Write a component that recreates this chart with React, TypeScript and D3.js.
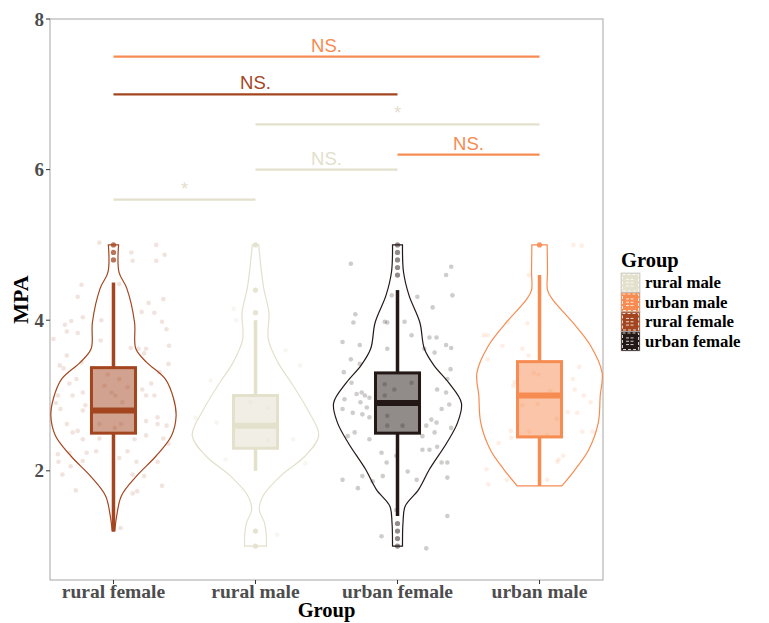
import React from "react";
import * as d3 from "d3";

const GROUPS = ["rural female", "rural male", "urban female", "urban male"];
const GROUP_COLORS = ["#a3461f", "#e3e0cc", "#231816", "#f68c52"];
const LEGEND_GROUPS = ["rural male", "urban male", "rural female", "urban female"];
const Y_TICKS = [2, 4, 6, 8];

// Box statistics per group (same order as GROUPS)
const LOWER_WHISKER = [1.2, 2.0, 1.4, 1.8];
const Q1 = [2.5, 2.3, 2.5, 2.45];
const MEDIAN = [2.8, 2.6, 2.9, 3.0];
const Q3 = [3.37, 3.0, 3.3, 3.45];
const UPPER_WHISKER = [4.5, 4.0, 4.4, 4.6];
const OUTLIERS = [
  [5.0, 4.9, 4.8],
  [5.0, 4.4, 4.1, 1.2, 1.0],
  [5.0, 4.9, 4.8, 4.7, 4.6, 1.3, 1.2, 1.1, 1.0],
  [5.0],
];

// Violin outlines: [MPA, relative density]
const VIOLIN_RURAL_FEMALE: [number, number][] = [
  [5.0, 0.08], [4.64, 0.086], [4.42, 0.21], [3.97, 0.33], [3.62, 0.35], [3.44, 0.52],
  [3.22, 0.81], [2.96, 0.94], [2.73, 0.98], [2.47, 0.91], [2.2, 0.67], [1.93, 0.36],
  [1.67, 0.125], [1.4, 0.05], [1.2, 0.02],
];
const VIOLIN_RURAL_MALE: [number, number][] = [
  [5.0, 0.05], [4.64, 0.094], [4.42, 0.13], [4.1, 0.21], [3.75, 0.2], [3.44, 0.35],
  [3.17, 0.56], [2.82, 0.81], [2.47, 0.99], [2.2, 0.78], [1.93, 0.39], [1.67, 0.12],
  [1.48, 0.06], [1.31, 0.14], [1.13, 0.17], [1.0, 0.17],
];
const VIOLIN_URBAN_FEMALE: [number, number][] = [
  [5.0, 0.078], [4.64, 0.094], [4.33, 0.18], [3.97, 0.35], [3.62, 0.42], [3.4, 0.57],
  [3.17, 0.8], [2.9, 1.0], [2.64, 0.94], [2.37, 0.77], [2.02, 0.5], [1.75, 0.33],
  [1.53, 0.12], [1.31, 0.086], [1.0, 0.078],
];
const VIOLIN_URBAN_MALE: [number, number][] = [
  [5.0, 0.12], [4.64, 0.125], [4.4, 0.125], [4.28, 0.2], [3.97, 0.52], [3.66, 0.8],
  [3.3, 0.98], [3.0, 0.95], [2.64, 0.92], [2.28, 0.77], [2.02, 0.56], [1.8, 0.35],
];
const VIOLINS = [VIOLIN_RURAL_FEMALE, VIOLIN_RURAL_MALE, VIOLIN_URBAN_FEMALE, VIOLIN_URBAN_MALE];

// Individual observations: [jitter (-100..100 of violin half width), MPA]
const POINTS_RURAL_FEMALE: [number, number][] = [
  [-22, 5.03], [67, 5.0], [80, 4.87], [28, 4.9], [67, 4.79], [30, 4.79], [-50, 4.47],
  [-56, 4.31], [9, 4.48], [55, 4.23], [78, 4.28], [64, 4.1], [44, 4.11], [-66, 3.99],
  [-76, 3.94], [-48, 4.04], [-19, 4.0], [-73, 3.85], [-56, 3.83], [76, 3.98], [83, 3.88],
  [-20, 3.73], [87, 3.66], [-73, 3.53], [27, 3.63], [39, 3.62], [51, 3.62], [48, 3.56],
  [-84, 3.4], [-78, 3.36], [-50, 3.44], [72, 3.31], [86, 3.42], [-69, 3.16], [-58, 3.22],
  [59, 3.16], [45, 3.08], [51, 3.0], [64, 3.0], [-87, 3.0], [-64, 3.0], [-48, 3.04],
  [-83, 2.82], [-48, 2.8], [-44, 2.87], [69, 2.71], [51, 2.66], [69, 2.62], [83, 2.6],
  [-73, 2.62], [-56, 2.53], [-64, 2.51], [-48, 2.42], [-22, 2.43], [33, 2.42], [51, 2.47],
  [78, 2.43], [86, 2.36], [-87, 2.22], [-69, 2.24], [-42, 2.24], [-27, 2.26], [9, 2.17],
  [22, 2.26], [36, 2.12], [-86, 2.12], [-67, 2.06], [-48, 2.13], [30, 1.95], [48, 1.93],
  [69, 2.12], [-59, 1.74], [30, 1.7], [37, 1.73], [76, 1.8], [11, 1.24], [-9, 3.28],
  [9, 3.22], [22, 3.11], [-3, 3.04], [3, 3.0], [-14, 3.13], [14, 2.91], [-22, 2.62],
  [12, 2.62], [2, 2.57], [-94, 3.75], [-90, 2.9], [-80, 1.95],
];
const POINTS_RURAL_MALE: [number, number][] = [
  [-61, 2.64], [-30, 4.0], [59, 2.42], [70, 3.4], [-8, 2.91], [19, 2.84], [20, 2.4],
  [-47, 2.15], [34, 1.15], [-34, 4.15], [-94, 2.7], [78, 2.1], [-70, 3.2], [47, 3.6],
];
const POINTS_URBAN_FEMALE: [number, number][] = [
  [-73, 4.75], [84, 4.71], [76, 4.6], [86, 4.33], [31, 4.31], [55, 4.17], [-9, 4.33],
  [-66, 4.08], [-69, 3.97], [-20, 3.98], [11, 3.98], [-16, 3.97], [22, 3.8], [50, 3.77],
  [61, 3.77], [76, 3.67], [84, 3.63], [-86, 3.71], [-59, 3.67], [-16, 3.62], [-73, 3.48],
  [58, 3.57], [42, 3.62], [83, 3.35], [-59, 3.42], [-84, 3.31], [-72, 3.17], [-56, 3.04],
  [-51, 3.0], [-64, 3.02], [-44, 2.97], [-58, 2.91], [-48, 2.84], [-83, 2.95], [-86, 2.82],
  [-70, 2.77], [-55, 2.75], [-44, 2.71], [62, 3.08], [78, 3.22], [76, 3.04], [81, 2.88],
  [69, 2.82], [53, 2.68], [61, 2.64], [45, 2.6], [58, 2.51], [39, 2.46], [84, 2.57],
  [-67, 2.51], [-78, 2.46], [-44, 2.42], [39, 2.28], [50, 2.28], [62, 2.32], [78, 2.11],
  [69, 2.11], [-86, 1.88], [-55, 1.93], [-39, 1.86], [-23, 1.93], [-25, 2.24], [-2, 2.2],
  [-17, 2.11], [16, 1.99], [30, 1.88], [78, 1.91], [-62, 1.77], [-2, 1.48], [78, 1.4],
  [-25, 1.13], [45, 0.97], [-20, 3.15], [-20, 3.0], [-16, 2.73], [8, 2.6], [22, 3.17],
  [-5, 3.08], [-16, 2.6],
];
const POINTS_URBAN_MALE: [number, number][] = [
  [53, 5.0], [66, 4.99], [-17, 4.6], [-50, 3.97], [-19, 3.96], [-87, 3.8], [-81, 3.8],
  [-58, 3.66], [-27, 3.62], [-81, 3.48], [-17, 3.53], [62, 3.38], [-9, 3.3], [-2, 3.28],
  [52, 3.22], [-39, 3.18], [-41, 3.13], [55, 3.08], [69, 3.0], [80, 2.91], [17, 3.06],
  [-27, 2.87], [-3, 2.89], [44, 2.78], [59, 2.77], [27, 2.69], [-45, 2.53], [-16, 2.52],
  [67, 2.52], [83, 2.52], [-44, 2.44], [12, 2.47], [-64, 2.37], [30, 2.15], [37, 2.2],
  [28, 2.12], [-83, 2.02], [-51, 1.88], [-80, 1.82], [12, 1.88],
];
const POINTS = [POINTS_RURAL_FEMALE, POINTS_RURAL_MALE, POINTS_URBAN_FEMALE, POINTS_URBAN_MALE];
const POINT_OPACITY = [0.15, 0.3, 0.22, 0.15];
const OUTLIER_OPACITY = [0.75, 0.9, 0.5, 0.9];

// Pairwise comparisons
const COMPARE_FROM = ["rural female", "rural female", "rural male", "urban female", "rural male", "rural female"];
const COMPARE_TO = ["urban male", "urban female", "urban male", "urban male", "urban female", "rural male"];
const COMPARE_Y = [7.5, 7.0, 6.6, 6.2, 6.0, 5.6];
const COMPARE_LABEL = ["NS.", "NS.", "*", "NS.", "NS.", "*"];
const COMPARE_COLOR_GROUP = ["urban male", "rural female", "rural male", "urban male", "rural male", "rural male"];

const SERIF = "'Liberation Serif', 'Times New Roman', serif";
const SANS = "'Liberation Sans', Arial, sans-serif";

export default function App() {
  const W = 769;
  const H = 623;
  const left = 50, right = 603, top = 19, bottom = 580;

  const x = d3.scalePoint<string>().domain(GROUPS).range([left, right]).padding(0.447);
  const y = d3.scaleLinear().domain([0.55, 8]).range([bottom, top]);
  const step = x.step();
  const halfWidth = d3.scaleLinear().domain([0, 1]).range([0, step * 0.45]);
  const boxHalf = step * 0.155;
  const colorOf = (g: string) => GROUP_COLORS[GROUPS.indexOf(g)];
  const keyH = 19.5;

  return (
    <svg width={W} height={H} style={{ position: "absolute", left: 0, top: 0, background: "#fff" }}>
      {/* panel border */}
      <rect x={left} y={top} width={right - left} height={bottom - top} fill="none" stroke="#a6a6a6" strokeWidth={1} />

      {/* y axis */}
      {Y_TICKS.map((t) => (
        <g key={"yt" + t}>
          <line x1={left - 4} x2={left} y1={y(t)} y2={y(t)} stroke="#333" strokeWidth={1} />
          <text x={left - 6} y={y(t)} dy="0.35em" textAnchor="end" fontFamily={SERIF} fontWeight="bold" fontSize={19} fill="#4d4d4d">
            {t}
          </text>
        </g>
      ))}
      <text transform={`translate(28, ${(top + bottom) / 2}) rotate(-90)`} textAnchor="middle" fontFamily={SERIF} fontWeight="bold" fontSize={22} fill="#000">
        MPA
      </text>

      {/* x axis */}
      {GROUPS.map((g) => (
        <g key={"xt" + g}>
          <line x1={x(g)} x2={x(g)} y1={bottom} y2={bottom + 4} stroke="#333" strokeWidth={1} />
          <text x={x(g)} y={598} textAnchor="middle" fontFamily={SERIF} fontWeight="bold" fontSize={19.5} fill="#4d4d4d">
            {g}
          </text>
        </g>
      ))}
      <text x={(left + right) / 2} y={617} textAnchor="middle" fontFamily={SERIF} fontWeight="bold" fontSize={20.5} fill="#000">
        Group
      </text>

      {/* jittered observations */}
      {GROUPS.map((g, i) => {
        const cx = x(g)!;
        return (
          <g key={"pts" + g}>
            {POINTS[i].map((p, k) => (
              <circle key={k} cx={cx + (p[0] / 100) * halfWidth(1)} cy={y(p[1])} r={2.3} fill={GROUP_COLORS[i]} fillOpacity={POINT_OPACITY[i]} />
            ))}
          </g>
        );
      })}

      {/* violins */}
      {GROUPS.map((g, i) => {
        const cx = x(g)!;
        const area = d3
          .area<[number, number]>()
          .y((d) => y(d[0]))
          .x0((d) => cx - halfWidth(d[1]))
          .x1((d) => cx + halfWidth(d[1]))
          .curve(d3.curveCatmullRom.alpha(0.5));
        return <path key={"v" + g} d={area(VIOLINS[i]) || ""} fill="none" stroke={GROUP_COLORS[i]} strokeWidth={1.2} />;
      })}

      {/* box plots */}
      {GROUPS.map((g, i) => {
        const cx = x(g)!;
        const c = GROUP_COLORS[i];
        return (
          <g key={"b" + g}>
            <line x1={cx} x2={cx} y1={y(UPPER_WHISKER[i])} y2={y(Q3[i])} stroke={c} strokeWidth={3.5} />
            <line x1={cx} x2={cx} y1={y(Q1[i])} y2={y(LOWER_WHISKER[i])} stroke={c} strokeWidth={3.5} />
            <rect x={cx - boxHalf} y={y(Q3[i])} width={boxHalf * 2} height={y(Q1[i]) - y(Q3[i])} fill={c} fillOpacity={0.5} stroke={c} strokeWidth={3} />
            <line x1={cx - boxHalf} x2={cx + boxHalf} y1={y(MEDIAN[i])} y2={y(MEDIAN[i])} stroke={c} strokeWidth={6} />
            {OUTLIERS[i].map((o, k) => (
              <circle key={k} cx={cx} cy={y(o)} r={2.6} fill={c} fillOpacity={OUTLIER_OPACITY[i]} />
            ))}
          </g>
        );
      })}

      {/* significance brackets */}
      {COMPARE_Y.map((v, k) => {
        const x1 = x(COMPARE_FROM[k])!;
        const x2 = x(COMPARE_TO[k])!;
        const c = colorOf(COMPARE_COLOR_GROUP[k]);
        return (
          <g key={"cmp" + k}>
            <line x1={x1} x2={x2} y1={y(v)} y2={y(v)} stroke={c} strokeWidth={2.3} />
            <text x={(x1 + x2) / 2} y={y(v) - 5} textAnchor="middle" fontFamily={SANS} fontSize={18.5} fill={c}>
              {COMPARE_LABEL[k]}
            </text>
          </g>
        );
      })}

      {/* legend */}
      <g>
        <text x={621} y={267} fontFamily={SERIF} fontWeight="bold" fontSize={20.5} fill="#000">
          Group
        </text>
        {LEGEND_GROUPS.map((g, k) => {
          const ky = 273 + k * keyH;
          const c = colorOf(g);
          return (
            <g key={"lg" + g}>
              <rect x={621} y={ky} width={19} height={keyH} fill={c} stroke="#bdbdbd" strokeWidth={0.6} />
              <rect x={622.5} y={ky + 1.5} width={16} height={keyH - 3} fill="none" stroke="#fff" strokeWidth={0.8} strokeDasharray="3 2" />
              {[0.33, 0.5, 0.67].map((f) => (
                <line key={f} x1={626} x2={635} y1={ky + keyH * f} y2={ky + keyH * f} stroke="#fff" strokeWidth={0.8} strokeDasharray="3 1.5" />
              ))}
              <text x={645} y={ky + keyH / 2} dy="0.33em" fontFamily={SERIF} fontWeight="bold" fontSize={16.8} fill="#000">
                {g}
              </text>
            </g>
          );
        })}
      </g>
    </svg>
  );
}
